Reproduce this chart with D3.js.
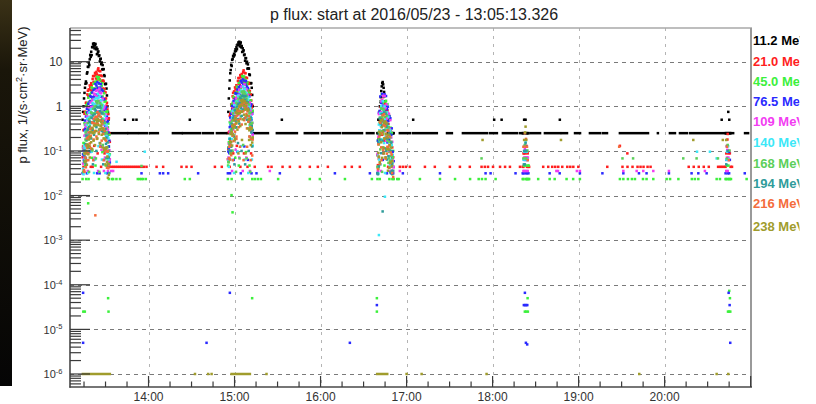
<!DOCTYPE html>
<html>
<head>
<meta charset="utf-8">
<script src="https://cdn.jsdelivr.net/npm/d3@7/dist/d3.min.js"></script>
<style>
  html, body { margin: 0; padding: 0; background: #ffffff; }
  svg { display: block; }
</style>
</head>
<body>
<svg id="chart" width="816" height="404"></svg>
<script>
// ---------------- energy channels ----------------
const channelLabels = ["11.2 MeV", "21.0 MeV", "45.0 MeV", "76.5 MeV", "109 MeV",
                       "140 MeV", "168 MeV", "194 MeV", "216 MeV", "238 MeV"];
const channelColors = ["#000000", "#ff1e1e", "#3cf03c", "#2a2aff", "#f23cf2",
                       "#3ce8f8", "#5ccf5a", "#2f9c9a", "#f46c3c", "#a09c2c"];
// flux produced by a single count in each channel, 1/(s cm2 sr MeV)
const oneCountFlux = [0.25, 0.044, 0.0234, 0.0315, 0.0355, 0.032, 0.034, 0.05, 0.062, 0.088];

// axis labels
const hourLabels = ["14:00", "15:00", "16:00", "17:00", "18:00", "19:00", "20:00"];
const decadeExponents = [-6, -5, -4, -3, -2, -1, 0, 1];

// All times are minutes after 13:00 UTC, 2016/05/23.
// ---------------- belt passes: sample times and flux per channel ----------------
const pass1Minutes = [14,14.33,14.67,15,15.33,15.67,16,16.33,16.67,17,17.33,17.67,18,18.33,18.67,19,19.33,19.67,20,20.33,20.67,21,21.33,21.67,22,22.33,22.67,23,23.33,23.67,24,24.33,24.67,25,25.33,25.67,26,26.33,26.67,27,27.33,27.67,28,28.33,28.67,29,29.33,29.67,30,30.33,30.67,31,31.33,31.67,32,32.33,32.67,33];
const pass1Flux = [
  [0.5,0.75,1.0,1.5,2.0,2.6,3.2,3.6,3.3,5.4,5.8,7.7,7.6,9.5,8.4,11.3,14.2,12.8,16.7,14,21.3,21.1,25.3,22.4,25.7,19.9,23.2,25,19,20.8,14.7,19.1,16.1,17,13.4,13.9,10.1,11.3,11.7,8.8,9.6,6.7,8.4,6.8,6.8,5.0,4.75,3.15,3.15,3.2,2.5,1.75,1.0,0.75,0.5,0.25,null,null],
  [0.072,0.126,0.29,0.3,0.68,0.75,0.75,1.2,1.19,0.99,1.85,2.23,1.71,2.4,1.73,2.94,2.65,2.29,3.3,2.97,2.3,4.1,4.75,3.53,4.8,3.37,5.6,4.95,4.2,5.9,5.2,3.9,6.6,7.1,4.9,6.2,4.0,6.1,4.9,3.7,4.75,3.7,2.5,3.8,3.6,2.17,2.47,1.47,2.05,1.5,1.04,1.2,0.85,0.52,0.67,0.54,0.25,0.16],
  [0.0234,0.115,0.15,0.15,0.42,0.38,0.23,0.73,1.05,0.66,1.15,0.53,1.56,1.23,0.86,1.85,1.32,0.71,2.0,2.65,1.53,2.5,1.1,3.2,2.5,1.68,3.5,2.5,1.3,3.6,4.6,2.6,4.1,1.66,4.5,3.2,2.0,3.8,2.45,1.15,2.9,3.3,1.66,2.3,0.84,1.96,1.27,0.73,1.3,0.75,0.32,0.74,0.77,0.34,0.41,0.126,0.23,0.084],
  [0.0315,0.084,0.1,0.077,0.29,0.48,0.32,0.59,0.28,0.88,0.73,0.51,1.14,0.82,0.45,1.28,1.7,1.0,1.63,0.71,2.04,1.6,1.1,2.33,1.64,0.87,2.43,3.18,1.83,2.92,1.24,3.45,2.6,1.65,3.27,2.13,1.03,2.63,3.15,1.63,2.36,0.89,2.21,1.48,0.83,1.43,0.85,0.37,0.89,0.96,0.44,0.59,0.21,0.46,0.26,0.125,0.17,0.055],
  [null,0.052,0.117,0.1,0.22,0.118,0.39,0.35,0.25,0.59,0.43,0.24,0.71,0.96,0.58,0.95,0.42,1.22,0.95,0.64,1.36,0.97,0.52,1.46,1.92,1.12,1.81,0.78,2.22,1.69,1.12,2.3,1.56,0.77,2.04,2.5,1.33,1.97,0.77,1.98,1.37,0.81,1.48,0.89,0.39,0.9,1.0,0.49,0.66,0.23,0.54,0.34,0.19,0.3,0.156,0.059,0.104,0.065],
  [null,0.04,0.03,0.126,0.132,0.112,0.27,0.21,0.126,0.38,0.53,0.32,0.55,0.25,0.72,0.58,0.4,0.85,0.59,0.32,0.88,1.18,0.69,1.13,0.49,1.41,1.09,0.74,1.54,1.06,0.55,1.49,1.9,1.03,1.58,0.64,1.68,1.18,0.73,1.37,0.86,0.39,0.96,1.08,0.52,0.7,0.25,0.61,0.4,0.22,0.37,0.21,0.09,0.2,0.19,0.078,0.081,null],
  [null,0.034,0.034,0.089,0.084,0.054,0.18,0.26,0.17,0.29,0.137,0.42,0.33,0.23,0.51,0.36,0.2,0.56,0.73,0.43,0.69,0.3,0.88,0.69,0.47,0.98,0.69,0.36,1.01,1.3,0.74,1.17,0.49,1.32,0.96,0.6,1.17,0.75,0.36,0.9,1.05,0.53,0.75,0.28,0.67,0.42,0.24,0.43,0.25,0.11,0.25,0.26,0.12,0.155,0.049,0.1,0.049,null],
  [null,null,null,0.058,0.103,0.074,0.142,0.069,0.22,0.18,0.133,0.3,0.21,0.117,0.34,0.45,0.26,0.44,0.19,0.55,0.43,0.29,0.62,0.44,0.23,0.66,0.86,0.5,0.8,0.34,0.96,0.72,0.47,0.94,0.62,0.3,0.78,0.94,0.49,0.71,0.28,0.69,0.46,0.27,0.47,0.27,0.117,0.28,0.31,0.144,0.2,0.07,0.16,0.096,0.047,0.071,0.032,null],
  [null,null,null,0.037,0.034,0.088,0.071,0.043,0.132,0.19,0.116,0.2,0.089,0.26,0.21,0.147,0.31,0.22,0.114,0.33,0.435,0.26,0.42,0.18,0.53,0.41,0.28,0.58,0.4,0.21,0.58,0.735,0.41,0.63,0.26,0.68,0.49,0.3,0.58,0.36,0.17,0.41,0.47,0.24,0.32,0.113,0.28,0.18,0.1,0.17,0.1,0.042,0.096,0.098,0.041,0.048,null,null],
  [null,null,null,null,null,0.058,0.089,0.058,0.1,0.049,0.14,0.12,0.084,0.18,0.13,0.071,0.2,0.27,0.156,0.26,0.11,0.32,0.25,0.17,0.37,0.26,0.135,0.38,0.5,0.28,0.45,0.19,0.52,0.38,0.24,0.48,0.31,0.147,0.37,0.44,0.23,0.32,0.12,0.3,0.19,0.106,0.19,0.113,0.05,0.114,0.12,0.057,0.075,0.025,0.052,0.029,null,null]
];
// low-level readings during pass 1 [channel, minute, flux]
const pass1Low = [[1,14.6,0.044],[3,14.9,0.063],[4,15.2,0.071],[5,15.5,0.064],[2,15.8,0.047],[6,16.1,0.068],[7,16.4,0.05],[8,16.7,0.062],[3,17.0,0.0315],[1,17.3,0.088],
  [4,17.6,0.0355],[5,17.9,0.032],[2,18.2,0.0234],[6,18.5,0.034],[7,18.8,0.1],[8,19.1,0.124],[3,19.4,0.095],[1,19.7,0.044],[4,20.0,0.106],[5,20.3,0.096],
  [2,20.6,0.07],[6,20.9,0.102],[7,21.2,0.05],[8,21.5,0.062],[3,21.8,0.063],[1,22.1,0.13],[4,22.4,0.071],[5,22.7,0.064],[2,23.0,0.047],[6,23.3,0.068],
  [7,23.6,0.1],[8,23.9,0.186],[3,24.2,0.0315],[1,24.5,0.088],[4,24.8,0.0355],[5,25.1,0.128],[2,25.4,0.0234],[6,25.7,0.034],[7,26.0,0.15],[8,26.3,0.124],
  [3,26.6,0.126],[1,26.9,0.044],[4,27.2,0.106],[5,27.5,0.064],[2,27.8,0.094],[6,28.1,0.136],[7,28.4,0.05],[8,28.7,0.062],[3,29.0,0.063],[1,29.3,0.088],
  [4,29.6,0.071],[5,29.9,0.032],[2,30.2,0.047],[6,30.5,0.068],[7,30.8,0.1],[3,31.1,0.0315],[1,31.4,0.044],[4,31.7,0.0355],[5,32.0,0.064],[2,32.3,0.0234],
  [3,32.6,0.063],[1,32.9,0.044],[6,15.0,0.034],[8,18.0,0.062],[5,22.0,0.032],[3,25.9,0.0315],[4,28.9,0.0355],[2,16.5,0.0234],[7,31.9,0.05],[1,21.0,0.044]];

const pass2Minutes = [115.33,115.67,116,116.33,116.67,117,117.33,117.67,118,118.33,118.67,119,119.33,119.67,120,120.33,120.67,121,121.33,121.67,122,122.33,122.67,123,123.33,123.67,124,124.33,124.67,125,125.33,125.67,126,126.33,126.67,127,127.33,127.67,128,128.33,128.67,129,129.33,129.67,130,130.33,130.67,131,131.33,131.67,132,132.33,132.67];
const pass2Flux = [
  [0.25,0.75,1.5,2.5,3.8,5.5,6.5,8.5,8.0,11,11.5,13.5,13,15,14,17,19,17.5,21,19,24,23.5,27,24.5,28,22,25,27,21,22.5,16.5,20,17,18,14,14.5,10.5,12,12,9.2,10,7,8.7,7.1,7,5.2,5.0,3.3,3.3,3.3,2.6,1.8,1.0],
  [0.065,0.11,0.26,0.27,0.61,0.68,0.68,1.1,1.07,0.89,1.67,2.0,1.54,2.16,1.56,2.65,2.39,2.06,2.97,2.67,2.07,3.7,4.3,3.2,4.3,3.0,5.0,4.5,3.8,5.3,4.7,3.5,5.9,6.4,4.4,5.6,3.6,5.5,4.4,3.3,4.3,3.3,2.25,3.4,3.2,1.95,2.2,1.32,1.85,1.35,0.94,1.08,0.77],
  [0.0234,0.12,0.156,0.156,0.44,0.4,0.24,0.76,1.09,0.69,1.2,0.55,1.62,1.28,0.89,1.92,1.37,0.74,2.08,2.76,1.59,2.6,1.14,3.33,2.6,1.75,3.64,2.6,1.35,3.74,4.78,2.7,4.26,1.73,4.68,3.33,2.08,3.95,2.55,1.2,3.02,3.43,1.73,2.39,0.87,2.04,1.32,0.76,1.35,0.78,0.33,0.77,0.8],
  [0.0315,0.097,0.116,0.089,0.34,0.56,0.37,0.68,0.32,1.02,0.85,0.59,1.32,0.95,0.52,1.48,1.97,1.16,1.89,0.82,2.37,1.86,1.28,2.7,1.9,1.01,2.82,3.69,2.12,3.39,1.44,4.0,3.02,1.91,3.79,2.47,1.19,3.05,3.65,1.89,2.74,1.03,2.56,1.72,0.96,1.66,0.99,0.43,1.03,1.11,0.51,0.68,0.24],
  [null,0.064,0.144,0.123,0.27,0.145,0.48,0.43,0.31,0.73,0.53,0.3,0.87,1.18,0.71,1.17,0.52,1.5,1.17,0.79,1.67,1.19,0.64,1.8,2.36,1.38,2.23,0.96,2.73,2.08,1.38,2.83,1.92,0.95,2.51,3.08,1.64,2.42,0.95,2.44,1.69,1.0,1.82,1.09,0.48,1.11,1.23,0.6,0.81,0.28,0.66,0.42,0.23],
  [null,0.059,0.044,0.185,0.194,0.165,0.4,0.31,0.185,0.56,0.78,0.47,0.81,0.37,1.06,0.85,0.59,1.25,0.87,0.47,1.29,1.73,1.01,1.66,0.72,2.07,1.6,1.09,2.26,1.56,0.81,2.19,2.79,1.51,2.32,0.94,2.47,1.73,1.07,2.01,1.26,0.57,1.41,1.59,0.76,1.03,0.37,0.9,0.59,0.32,0.54,0.31,0.132],
  [null,0.056,0.056,0.146,0.138,0.089,0.3,0.43,0.28,0.48,0.22,0.69,0.54,0.38,0.84,0.59,0.33,0.92,1.2,0.71,1.13,0.49,1.44,1.13,0.77,1.61,1.13,0.59,1.66,2.13,1.21,1.92,0.8,2.16,1.57,0.98,1.92,1.23,0.59,1.48,1.72,0.87,1.23,0.46,1.1,0.69,0.39,0.71,0.41,0.18,0.41,0.43,0.2],
  [null,null,null,0.104,0.185,0.133,0.256,0.124,0.4,0.32,0.24,0.54,0.38,0.21,0.61,0.81,0.47,0.79,0.34,0.99,0.77,0.52,1.12,0.79,0.41,1.19,1.55,0.9,1.44,0.61,1.73,1.3,0.85,1.69,1.12,0.54,1.4,1.69,0.88,1.28,0.5,1.24,0.83,0.49,0.85,0.49,0.21,0.5,0.56,0.26,0.36,0.126,0.29],
  [null,null,null,0.069,0.064,0.165,0.133,0.08,0.25,0.36,0.22,0.37,0.166,0.49,0.39,0.27,0.58,0.41,0.21,0.62,0.81,0.49,0.79,0.34,0.99,0.77,0.52,1.08,0.75,0.39,1.08,1.37,0.77,1.18,0.49,1.27,0.92,0.56,1.08,0.67,0.32,0.77,0.88,0.45,0.6,0.21,0.52,0.34,0.187,0.32,0.187,0.079,0.18],
  [null,null,null,null,null,0.157,0.24,0.157,0.27,0.132,0.38,0.32,0.23,0.49,0.35,0.19,0.54,0.73,0.42,0.7,0.3,0.86,0.68,0.46,1.0,0.7,0.36,1.03,1.35,0.76,1.22,0.51,1.4,1.03,0.65,1.3,0.84,0.4,1.0,1.19,0.62,0.86,0.32,0.81,0.51,0.29,0.51,0.31,0.135,0.31,0.32,0.154,0.2]
];
// low-level readings during pass 2 [channel, minute, flux]
const pass2Low = [[2,115.5,0.047],[4,115.78,0.071],[6,116.05,0.068],[8,116.33,0.124],[1,116.6,0.044],[3,116.88,0.0315],[5,117.16,0.064],[7,117.43,0.1],[9,117.71,0.088],[2,117.99,0.0234],
  [4,118.26,0.0355],[6,118.54,0.102],[8,118.82,0.062],[1,119.09,0.088],[3,119.37,0.063],[5,119.65,0.032],[7,119.92,0.05],[9,120.2,0.176],[2,120.48,0.07],[4,120.75,0.106],
  [6,121.03,0.034],[8,121.31,0.186],[1,121.58,0.13],[3,121.86,0.095],[5,122.14,0.096],[7,122.41,0.15],[9,122.69,0.088],[2,122.97,0.047],[4,123.24,0.071],[6,123.52,0.068],
  [8,123.8,0.124],[1,124.07,0.044],[3,124.35,0.0315],[5,124.63,0.128],[7,124.9,0.1],[9,125.18,0.176],[2,125.46,0.0234],[4,125.73,0.0355],[6,126.01,0.136],[8,126.29,0.062],
  [1,126.56,0.088],[3,126.84,0.126],[5,127.12,0.064],[7,127.39,0.05],[9,127.67,0.088],[2,127.95,0.094],[4,128.22,0.071],[6,128.5,0.068],[8,128.78,0.124],[1,129.05,0.044],
  [3,129.33,0.063],[5,129.61,0.032],[7,129.88,0.1],[9,130.16,0.176],[2,130.44,0.047],[4,130.71,0.0355],[6,130.99,0.034],[8,131.27,0.062],[1,131.54,0.088],[3,131.82,0.0315],
  [5,132.1,0.064],[2,132.37,0.0234]];

const pass3Minutes = [219.67,220,220.33,220.67,221,221.33,221.67,222,222.33,222.67,223,223.33,223.67,224,224.33,224.67,225,225.33,225.67,226,226.33,226.67,227,227.33,227.67,228,228.33,228.67,229,229.33,229.67,230,230.33,230.67,231];
const pass3Flux = [
  [0.25,0.25,0.5,0.5,0.75,1.0,1.25,1.6,2.2,2.8,3.3,3.5,3.1,2.6,2.1,1.7,1.3,1.0,0.75,0.75,0.5,0.5,0.25,0.5,0.25,0.25,0.25,0.25,0.25,0.25,0.25,0.25,0.25,0.25,0.25],
  [0.08,0.048,0.19,0.067,0.68,0.45,0.23,0.96,0.49,1.34,0.23,0.88,1.6,0.47,0.91,0.17,1.16,0.58,0.24,0.82,0.35,0.81,0.12,0.4,0.64,0.17,0.29,0.05,0.3,0.13,0.045,0.12,0.044,0.072,0.044],
  [0.0234,0.17,0.18,0.14,0.75,0.43,1.3,0.24,0.96,1.86,0.58,1.2,0.24,1.67,0.86,0.36,1.28,0.56,1.33,0.2,0.68,1.12,0.3,0.54,0.096,0.6,0.27,0.1,0.33,0.126,0.25,0.03,0.077,0.1,0.0234],
  [0.0315,0.17,0.16,0.72,0.17,0.79,1.66,0.55,1.2,0.26,1.9,1.04,0.46,1.69,0.77,1.86,0.29,1.01,1.7,0.47,0.86,0.155,0.98,0.47,0.18,0.6,0.24,0.54,0.077,0.23,0.32,0.069,0.096,0.0315,0.059],
  [0.086,0.0355,0.21,0.67,0.29,0.71,0.16,1.29,0.74,0.35,1.38,0.67,1.71,0.28,0.99,1.71,0.49,0.91,0.17,1.1,0.53,0.21,0.71,0.3,0.68,0.1,0.31,0.49,0.126,0.2,0.0355,0.16,0.06,null,0.043],
  [null,0.078,0.031,0.39,0.29,0.16,0.7,0.36,1.02,0.18,0.69,1.3,0.39,0.76,0.15,0.99,0.5,0.21,0.72,0.31,0.73,0.11,0.36,0.585,0.156,0.27,0.047,0.29,0.13,0.046,0.135,0.046,0.082,null,null],
  [0.043,0.045,0.04,0.26,0.175,0.56,0.108,0.44,0.87,0.28,0.58,0.12,0.85,0.44,0.19,0.68,0.3,0.72,0.11,0.37,0.62,0.17,0.3,0.054,0.34,0.16,0.06,0.2,0.077,0.16,0.034,0.055,0.07,null,null],
  [0.032,0.03,0.153,0.045,0.23,0.53,0.18,0.41,0.089,0.67,0.37,0.17,0.64,0.29,0.73,0.115,0.4,0.68,0.19,0.35,0.064,0.41,0.19,0.076,0.255,0.105,0.23,0.033,0.1,0.153,0.036,0.051,null,0.036,null],
  [null,0.039,0.14,0.074,0.21,0.052,0.43,0.25,0.12,0.49,0.24,0.63,0.105,0.38,0.665,0.19,0.36,0.067,0.44,0.21,0.087,0.29,0.12,0.28,0.042,0.135,0.21,0.054,0.092,null,0.083,0.032,null,0.026,null],
  [null,null,0.09,0.074,0.27,0.056,0.24,0.48,0.156,0.34,0.07,0.51,0.27,0.118,0.43,0.19,0.46,0.072,0.24,0.41,0.11,0.2,0.036,0.23,0.108,0.042,0.135,0.055,0.119,null,0.046,0.06,null,null,null]
];
// low-level readings during pass 3 [channel, minute, flux]
const pass3Low = [[3,220.0,0.0315],[1,220.4,0.044],[5,220.8,0.064],[2,221.3,0.0234],[7,221.7,0.05],[4,222.1,0.0355],[8,222.5,0.062],[6,222.9,0.034],[3,223.4,0.063],[1,223.8,0.088],
  [9,224.2,0.088],[2,224.6,0.047],[5,225.0,0.032],[4,225.5,0.071],[7,225.9,0.1],[3,226.3,0.0315],[8,226.7,0.124],[1,227.1,0.044],[6,227.6,0.068],[2,228.0,0.0234],
  [4,228.4,0.0355],[5,228.8,0.064],[3,229.2,0.0315],[1,229.7,0.044],[2,230.1,0.0234]];

const pass4Minutes = [321,321.5,322,322.5,323,323.5,324,324.5,325,325.5];
const pass4Flux = [
  [0.25,0.25,0.5,0.25,0.5,0.25,0.25,0.25,0.25,null],
  [0.044,0.044,0.088,0.13,0.088,0.13,0.044,0.088,0.044,0.044],
  [0.0234,0.0234,0.047,0.07,0.047,0.07,0.0234,0.047,0.0234,0.0234],
  [0.0315,0.0315,0.063,0.095,0.063,0.126,0.0315,0.063,0.0315,null],
  [null,0.0355,0.071,0.11,0.071,0.0355,0.071,0.0355,null,null],
  [null,0.064,0.096,0.064,0.16,0.096,0.064,null,null,null],
  [null,0.068,null,0.136,0.068,0.068,null,null,null,null],
  [null,null,0.1,0.05,0.15,0.1,null,null,null,null],
  [null,0.124,null,0.25,0.124,null,0.124,null,null,null],
  [null,null,0.176,null,0.35,0.176,null,null,null,null]
];
// further readings near passes 4 and 5 [channel, minute, flux]
const pass4And5Extra = [[9,322.7,0.26],[8,323.3,0.186],[5,322.2,0.128],[5,323.8,0.096],[7,322.9,0.1],[6,324.3,0.102],
  [1,321.6,0.088],[1,324.8,0.044],[3,322.9,0.0315],[3,323.9,0.063],[4,324.6,0.071],[2,321.9,0.047],[2,323.1,0.0234],
  [2,324.0,0.0234],[2,325.2,0.047],[4,322.2,0.0355],[8,324.5,0.062],[7,321.8,0.05],
  [5,464.3,0.128],[6,465.2,0.102],[1,463.8,0.18],[3,464.9,0.095],[4,463.7,0.106],[2,466.3,0.0234],[8,464.8,0.062]];

const pass5Minutes = [462.5,463,463.5,464,464.5,465,465.5,466];
const pass5Flux = [
  [0.25,0.25,0.25,0.25,0.25,0.25,0.25,0.25],
  [0.044,0.088,0.13,0.24,0.088,0.1,0.088,0.044],
  [0.0234,0.0234,0.047,0.0234,0.047,0.0234,0.0234,null],
  [0.0315,0.063,0.126,0.0315,0.063,0.0315,0.063,null],
  [null,0.0355,0.071,0.0355,0.071,null,null,null],
  [null,0.064,0.096,0.064,0.064,null,null,null],
  [null,null,0.068,0.136,null,null,null,null],
  [null,0.05,null,0.1,null,null,null,null],
  [null,null,0.124,null,null,null,null,null],
  [null,0.176,null,null,null,null,null,null]
];

// ---------------- quiet periods ----------------
// runs of consecutive single-count readings of the 11.2 MeV channel [from, to]
const runs11_2 = [[31.5,45],[46,52],[53.5,58.8],[60.9,66.5],[77,83.2],[84,95.8],[97.9,104.9],[107.7,114],
  [133.5,143.3],[149.5,163.5],[169,178.2],[181,193.5],[195.6,208.9],[212.3,216.9],[235.3,242.3],
  [244.4,261.1],[268.2,271.6],[279.3,296],[298.1,303],[307.2,317],[319.1,320.5],[326.5,333.1],[336.5,347],
  [348.4,351.9],[357.5,361],[367.9,375],[377,379.8],[388.8,408.4],[415.3,415.3],[423.7,427.2],[430.7,435.6],
  [437.8,462],[466.5,467.8],[476.1,478.2]];
// isolated single-count readings
const hits21_0 = [34.5,35.8,37.2,38.6,40,41.4,42.8,44.2,45.6,47,48.4,49.8,51.2,52.6,54,55.4,56.8,58.6,
  65.6,70.2,83,86.5,90,106.3,111.1,134.1,143.4,145.8,153.5,158.6,165.6,172.5,178.1,185.1,197,201.8,207.4,
  235.3,237.4,239.5,242.3,252.8,259.7,270.2,277.2,284.1,292.3,294.6,296.8,300.3,305.2,308.7,312.1,319.1,
  335.3,338.8,341.6,343.7,345.8,348.6,352.1,354.2,356.3,359.8,380,390.6,394.1,397.6,401.1,403.2,405.3,408.1,
  410.2,436.8,440.3,443.8,447.3,450.8,457.3,458.7,460,461.4,467];
const hits45_0 = [34.5,35.3,37.6,40.1,52.5,53.9,55.1,56.2,58.1,85.3,88.8,134.2,136.3,138.4,150.4,172.5,
  179.5,197,215.8,233.5,234.5,249.3,263.3,273.8,284.3,290.3,292.6,295.1,302.1,331.8,339.8,343.3,351.6,356.2,
  360.9,388.8,391.2,394.4,397.2,399.3,404.9,407.4,412.1,421.4,423.8,429.6,439,441.1,443.5,456.3,458.6,477.2];
const hits76_5 = [55.1,67.9,70.2,73.7,94.6,135.3,151.6,190,214.4,237.4,263.3,295.1,298.6,316,339.8,346.8,360.9,
  376.6,391.2,402.1,407.4,423,438.8,443.5,449.3,475.9];
const hits109 = [34,35.3,144.6,235.3,344.5,345.6,358.8,360.9,391.2,400.5,405.1,412.1,423,448.1];

// 238 MeV readings sitting on the 1e-6 floor [from, to]
const floorRuns238 = [[14.2,33.0],[92.4,92.4],[101.6,101.6],[104,104],[117.9,130.7],[142.3,142.3],[219.5,226.5],
  [240,240],[250.5,250.5],[295.8,295.8],[402.3,402.3],[456.3,456.3],[464.4,464.4]];
const floorFlux = 1e-6;

// other individual readings [channel, minute, flux]
const otherReadings = [
  [0,43.5,0.5],[0,49.3,0.5],[0,51.6,0.5],[0,88.8,0.5],[0,153,0.5],[0,244.6,0.5],[0,301.1,0.5],[0,306.3,0.5],
  [0,346.9,0.5],[0,459.8,0.5],[0,465.1,0.5],[0,464.4,0.75],
  [1,394.0,0.088],[1,388.8,0.13],
  [5,37.7,0.057],[5,57.4,0.096],[5,442.6,0.096],[5,451.6,0.096],[5,456.3,0.068],
  [6,292.3,0.068],[6,390.6,0.068],[6,398.0,0.068],[6,433.0,0.068],[6,442.3,0.068],[6,457.2,0.068],[6,55.1,0.046],
  [8,388.3,0.124],
  [9,293.0,0.176],[9,347.7,0.176],[9,440.0,0.176],[9,460.6,0.176],
  [2,17.9,6.7e-3],[8,22.9,3.6e-3],[2,118.6,4.2e-3],[2,117.9,0.0102],[5,220.7,1.3e-3],[7,223.3,4.4e-3],[5,224.9,9.4e-3],
  [3,14.37,6.6e-5],[3,14.37,5.0e-6],[2,31.81,5.0e-5],[2,14.5,2.5e-5],[2,15.56,2.5e-5],[2,32.09,2.5e-5],
  [3,116.72,6.6e-5],[2,132.28,5.0e-5],[3,100.47,5.0e-6],
  [2,219.28,5.0e-5],[3,219.28,3.5e-5],[2,219.28,2.5e-5],[3,200.44,5.0e-6],
  [3,322.53,6.6e-5],[2,324.42,5.0e-5],[3,321.8,3.5e-5],[3,322.6,3.5e-5],[3,323.4,3.5e-5],[3,324.2,3.5e-5],
  [2,322.5,2.5e-5],[2,323.5,2.5e-5],[2,324.6,2.5e-5],[3,323.23,5.0e-6],[3,324.14,4.6e-6],
  [2,465.07,7.3e-5],[3,464.65,6.6e-5],[2,465.56,5.0e-5],[3,465.35,3.5e-5],[2,464.2,2.5e-5],[2,465.0,2.5e-5],
  [2,465.8,2.5e-5],[3,465.77,5.0e-6]
];

// ---------------- layout ----------------
const frame = { left: 70, right: 751, top: 28, bottom: 387 };
const legendRowY = [40, 61.3, 81.3, 101.3, 121.7, 142.3, 162.8, 183, 203.2, 226.5];
const dotSize = 2.5;

const t0 = Date.UTC(2016, 4, 23, 13, 0, 0);
const toDate = m => new Date(t0 + m * 60000);
const startMinute = 5 + 13.326 / 60;
const endMinute = 480.25;

const x = d3.scaleUtc().domain([toDate(startMinute), toDate(endMinute)]).range([frame.left, frame.right]);
const y = d3.scaleLog().domain([5.11e-7, 56.9]).range([frame.bottom, frame.top]);
const xm = m => x(toDate(m));

const svg = d3.select("#chart");
const font = "'Liberation Sans', Arial, Helvetica, sans-serif";
const defs = svg.append("defs");

// dark edge along the left border
const edgeGrad = defs.append("linearGradient").attr("id", "edge").attr("x1", 0).attr("y1", 0).attr("x2", 0).attr("y2", 1);
edgeGrad.append("stop").attr("offset", "0%").attr("stop-color", "#3a3116");
edgeGrad.append("stop").attr("offset", "18%").attr("stop-color", "#1a160a");
edgeGrad.append("stop").attr("offset", "100%").attr("stop-color", "#050505");
svg.append("rect").attr("x", 0).attr("y", 0).attr("width", 12).attr("height", 386).attr("fill", "url(#edge)");

defs.append("clipPath").attr("id", "plotClip")
  .append("rect").attr("x", frame.left).attr("y", frame.top)
  .attr("width", frame.right - frame.left).attr("height", frame.bottom - frame.top);
defs.append("clipPath").attr("id", "pageClip")
  .append("rect").attr("x", 0).attr("y", 0).attr("width", 799.5).attr("height", 404);

// ---------------- grid ----------------
const decades = decadeExponents.map(e => Math.pow(10, e));
svg.append("g").selectAll("line").data(decades).join("line")
  .attr("x1", frame.left).attr("x2", frame.right)
  .attr("y1", d => Math.round(y(d)) + 0.5).attr("y2", d => Math.round(y(d)) + 0.5)
  .attr("stroke", "#7a7a7a").attr("stroke-width", 1).attr("stroke-dasharray", "4,4");

const hourMinutes = hourLabels.map(s => (+s.split(":")[0] - 13) * 60);
svg.append("g").selectAll("line").data(hourMinutes).join("line")
  .attr("x1", d => Math.round(xm(d)) + 0.5).attr("x2", d => Math.round(xm(d)) + 0.5)
  .attr("y1", frame.top).attr("y2", frame.bottom)
  .attr("stroke", "#b4b4b4").attr("stroke-width", 1).attr("stroke-dasharray", "3,5");

// ---------------- data ----------------
const plot = svg.append("g").attr("clip-path", "url(#plotClip)");
const passes = [
  [pass1Minutes, pass1Flux], [pass2Minutes, pass2Flux], [pass3Minutes, pass3Flux],
  [pass4Minutes, pass4Flux], [pass5Minutes, pass5Flux]
];
const scattered = otherReadings.concat(pass1Low, pass2Low, pass3Low, pass4And5Extra);
const hitLists = [null, hits21_0, hits45_0, hits76_5, hits109, null, null, null, null, null];
const runLists = [runs11_2.map(r => [r[0], r[1], oneCountFlux[0]]), [], [], [], [], [], [], [], [],
                  floorRuns238.map(r => [r[0], r[1], floorFlux])];

channelLabels.forEach((label, c) => {
  const g = plot.append("g").attr("fill", channelColors[c]);
  const pts = [];
  passes.forEach(([mins, flux]) => mins.forEach((m, i) => {
    const v = flux[c][i];
    if (v != null) pts.push([m, v]);
  }));
  if (hitLists[c]) hitLists[c].forEach(m => pts.push([m, oneCountFlux[c]]));
  scattered.filter(r => r[0] === c).forEach(r => pts.push([r[1], r[2]]));

  g.selectAll("rect.run").data(runLists[c]).join("rect").attr("class", "run")
    .attr("x", d => xm(d[0]) - dotSize / 2)
    .attr("width", d => xm(d[1]) - xm(d[0]) + dotSize)
    .attr("y", d => y(d[2]) - dotSize / 2).attr("height", dotSize);
  g.selectAll("rect.pt").data(pts).join("rect").attr("class", "pt")
    .attr("x", d => xm(d[0]) - dotSize / 2).attr("y", d => y(d[1]) - dotSize / 2)
    .attr("width", dotSize).attr("height", dotSize);
});

// ---------------- frame and axes ----------------
svg.append("line").attr("x1", frame.left).attr("x2", frame.right + 1).attr("y1", frame.top).attr("y2", frame.top)
  .attr("stroke", "#a8a8a8").attr("stroke-width", 1.5);
svg.append("line").attr("x1", frame.right).attr("x2", frame.right).attr("y1", frame.top).attr("y2", frame.bottom)
  .attr("stroke", "#9a9a9a").attr("stroke-width", 2);
svg.append("line").attr("x1", frame.left - 0.5).attr("x2", frame.right + 1).attr("y1", frame.bottom).attr("y2", frame.bottom)
  .attr("stroke", "#484848").attr("stroke-width", 1.6);
svg.append("line").attr("x1", frame.left).attr("x2", frame.left).attr("y1", frame.top).attr("y2", frame.bottom + 0.8)
  .attr("stroke", "#484848").attr("stroke-width", 1.6);

// y ticks: decades long, 2..9 short (drawn inward)
const yTicks = y.ticks();
svg.append("g").selectAll("line").data(yTicks).join("line")
  .attr("x1", frame.left).attr("x2", d => {
    const k = Math.round(d / Math.pow(10, Math.floor(Math.log10(d) + 1e-9)));
    return frame.left + (k === 1 ? 20 : 11);
  })
  .attr("y1", d => y(d)).attr("y2", d => y(d))
  .attr("stroke", "#3a3a3a").attr("stroke-width", 1.2);

// x ticks: hours long, quarter hours short
const quarterTicks = d3.utcMinute.every(15).range(toDate(startMinute), toDate(endMinute));
svg.append("g").selectAll("line").data(quarterTicks).join("line")
  .attr("x1", d => x(d)).attr("x2", d => x(d))
  .attr("y1", frame.bottom).attr("y2", d => frame.bottom - (d.getUTCMinutes() === 0 ? 11 : 5.5))
  .attr("stroke", "#3a3a3a").attr("stroke-width", 1.2);

// x labels
svg.append("g").selectAll("text").data(hourLabels).join("text")
  .attr("x", (d, i) => xm(hourMinutes[i])).attr("y", 400.5)
  .attr("text-anchor", "middle").attr("font-family", font).attr("font-size", 12).attr("fill", "#333")
  .text(d => d);

// y labels
const yl = svg.append("g").attr("font-family", font).attr("fill", "#333");
decadeExponents.forEach(e => {
  const t = yl.append("text").attr("text-anchor", "end").attr("x", 62.5).attr("y", y(Math.pow(10, e)) + 4.3);
  if (e === 1) t.attr("font-size", 12).text("10");
  else if (e === 0) t.attr("font-size", 12).text("1");
  else {
    t.attr("font-size", 11).text("10");
    t.append("tspan").attr("font-size", 7.5).attr("dy", -4.5).text(String(e));
  }
});

// axis title
const yt = svg.append("text").attr("transform", "translate(26.5,95) rotate(-90)")
  .attr("text-anchor", "middle").attr("font-family", font).attr("font-size", 13).attr("fill", "#222");
yt.append("tspan").text("p flux, 1/(s\u00b7cm");
yt.append("tspan").attr("font-size", 9).attr("dy", -4.5).text("2");
yt.append("tspan").attr("dy", 4.5).text("\u00b7sr\u00b7MeV)");

// title
svg.append("text").attr("x", 414).attr("y", 20).attr("text-anchor", "middle")
  .attr("font-family", font).attr("font-size", 16).attr("fill", "#222")
  .text("p flux: start at 2016/05/23 - 13:05:13.326");

// legend
svg.append("g").attr("clip-path", "url(#pageClip)").selectAll("text").data(channelLabels).join("text")
  .attr("x", 753).attr("y", (d, i) => legendRowY[i] + 4.7)
  .attr("font-family", font).attr("font-size", 13).attr("font-weight", "bold")
  .attr("fill", (d, i) => channelColors[i]).text(d => d);
</script>
</body>
</html>
